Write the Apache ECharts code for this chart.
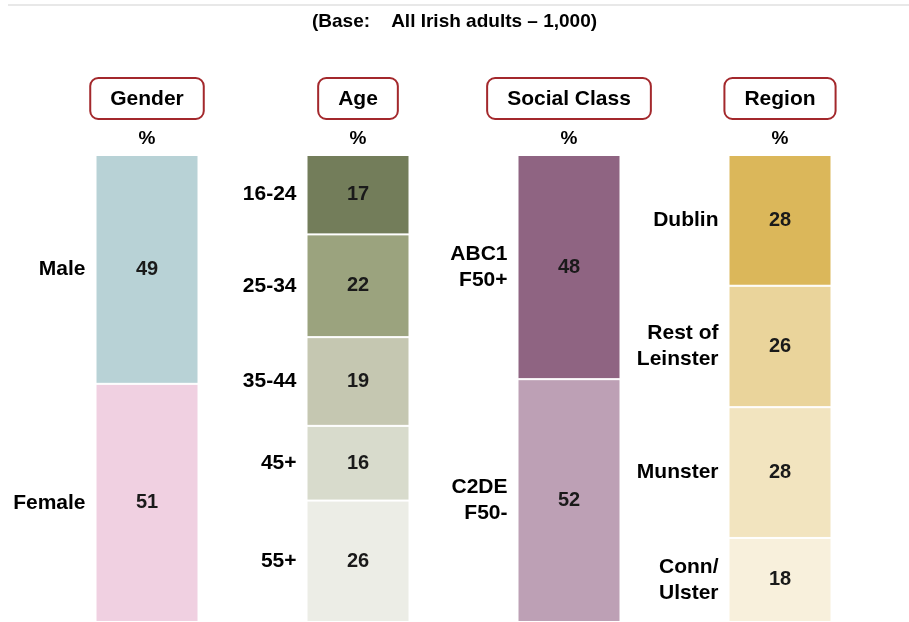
<!DOCTYPE html>
<html>
<head>
<meta charset="utf-8">
<script src="https://cdn.jsdelivr.net/npm/echarts@6/dist/echarts.min.js"></script>
<style>
html,body{margin:0;padding:0;background:#fff;}
#chart{width:909px;height:622px;}
</style>
</head>
<body>
<div id="chart"></div>
<script>
// 分组
var groups = ['Gender', 'Age', 'Social Class', 'Region'];

// 各组的分段（从上到下）
var genderNames = ['Male', 'Female'];
var genderValues = [49, 51];
var ageNames = ['16-24', '25-34', '35-44', '45+', '55+'];
var ageValues = [17, 22, 19, 16, 26];
var classNames = ['ABC1\nF50+', 'C2DE\nF50-'];
var classValues = [48, 52];
var regionNames = ['Dublin', 'Rest of\nLeinster', 'Munster', 'Conn/\nUlster'];
var regionValues = [28, 26, 28, 18];

// 颜色
var genderColors = ['#B8D2D6', '#F0D0E1'];
var ageColors = ['#737D5A', '#9BA37E', '#C5C7B1', '#D8DBCC', '#ECEDE6'];
var classColors = ['#8F6482', '#BDA0B5'];
var regionColors = ['#DBB75A', '#EAD49B', '#F2E4BF', '#F8F0DC'];

var allNames = [genderNames, ageNames, classNames, regionNames];
var allValues = [genderValues, ageValues, classValues, regionValues];
var allColors = [genderColors, ageColors, classColors, regionColors];

var font = 'Liberation Sans, Arial, sans-serif';
var series = [];
for (var k = 0; k < 5; k++) {
    var valData = [], nameData = [];
    for (var g = 0; g < groups.length; g++) {
        if (k < allValues[g].length) {
            valData.push({ value: allValues[g][k], itemStyle: { color: allColors[g][k] } });
            nameData.push({ value: allValues[g][k], name: allNames[g][k] });
        } else {
            valData.push('-');
            nameData.push('-');
        }
    }
    // 色块 + 数值
    series.push({
        type: 'bar',
        stack: 'v',
        xAxisIndex: 0,
        barWidth: 103,
        data: valData,
        itemStyle: { borderColor: '#fff', borderWidth: 1 },
        label: {
            show: true,
            position: 'inside',
            color: '#1a1a1a',
            fontFamily: font,
            fontWeight: 'bold',
            fontSize: 20
        },
        silent: true
    });
    // 左侧分段名称（透明柱）
    series.push({
        type: 'bar',
        stack: 'n',
        xAxisIndex: 1,
        barWidth: 103,
        data: nameData,
        itemStyle: { color: 'transparent' },
        label: {
            show: true,
            position: 'left',
            distance: 10,
            formatter: function (p) { return p.data.name; },
            color: '#000',
            fontFamily: font,
            fontWeight: 'bold',
            fontSize: 21,
            lineHeight: 26,
            align: 'right'
        },
        silent: true
    });
}

var chart = echarts.init(document.getElementById('chart'));
chart.setOption({
    animation: false,
    title: {
        text: '(Base:    All Irish adults \u2013 1,000)',
        left: 'center',
        top: 7,
        textStyle: { fontFamily: font, fontWeight: 'bold', fontSize: 19, color: '#000' }
    },
    graphic: [{
        type: 'line',
        shape: { x1: 8, y1: 5, x2: 909, y2: 5 },
        style: { stroke: '#e8e8e8', lineWidth: 2 }
    }],
    grid: { left: 41.5, right: 23.5, top: 155, bottom: 0 },
    xAxis: [{
        type: 'category',
        position: 'top',
        data: groups,
        axisLine: { show: false },
        axisTick: { show: false },
        axisLabel: {
            interval: 0,
            margin: 3,
            formatter: function (v) { return '{box|' + v + '}\n{gap| }\n{pct|%}'; },
            rich: {
                box: {
                    fontFamily: font, fontWeight: 'bold', fontSize: 21, color: '#000',
                    borderColor: '#A3282C', borderWidth: 2, borderRadius: 8,
                    padding: [11, 20, 9, 20]
                },
                gap: { fontSize: 4, lineHeight: 7 },
                pct: {
                    fontFamily: font, fontWeight: 'bold', fontSize: 19, color: '#000',
                    lineHeight: 26
                }
            }
        }
    }, {
        type: 'category',
        position: 'top',
        data: groups,
        show: false
    }],
    yAxis: {
        type: 'value',
        inverse: true,
        min: 0,
        max: 100,
        show: false
    },
    series: series
});
</script>
</body>
</html>
